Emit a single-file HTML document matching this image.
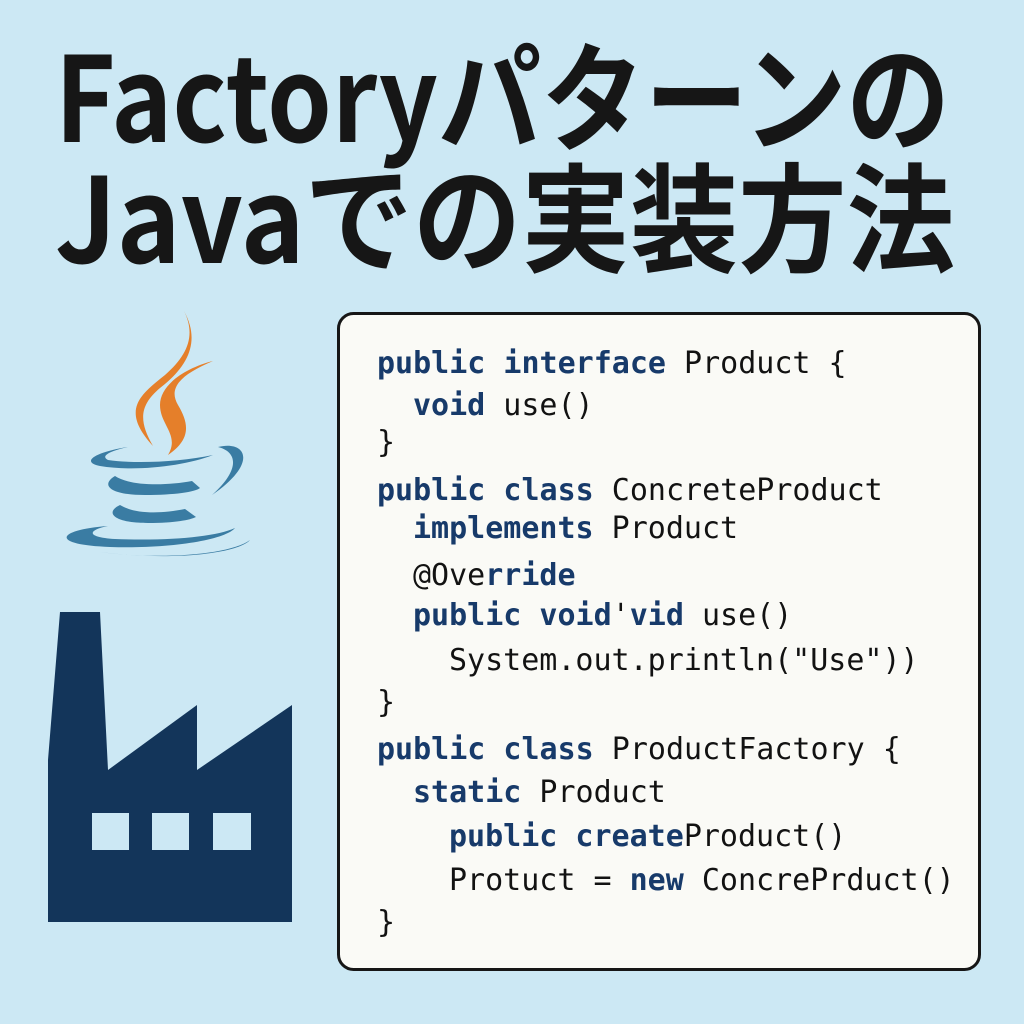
<!DOCTYPE html>
<html><head><meta charset="utf-8"><style>
html,body{margin:0;padding:0;background:#cce8f4;}
svg{display:block}
.t{font-family:"Noto Sans CJK JP","Liberation Sans",sans-serif;font-weight:700;fill:#161616;font-size:118px}
.c{font-family:"DejaVu Sans Mono","Liberation Mono",monospace;font-size:30px;fill:#121212}
.k{fill:#173a6a;font-weight:bold}
</style></head><body>
<svg width="1024" height="1024" viewBox="0 0 1024 1024" xmlns="http://www.w3.org/2000/svg">
<rect width="1024" height="1024" fill="#cce8f4"/>
<text class="t" x="55" y="142" textLength="895" lengthAdjust="spacingAndGlyphs">Factoryパターンの</text>
<text class="t" x="55" y="263" textLength="900" lengthAdjust="spacingAndGlyphs">Javaでの実装方法</text>

<!-- java flames -->
<path d="M184 311 C196 335 188 355 165 375 C140 395 120 410 153 446 C138 420 140 405 160 388 C190 365 200 340 184 311 Z" fill="#e57f2a"/>
<path d="M213 361 C185 368 160 385 160 405 C160 425 180 435 168 455 C190 440 190 425 178 405 C168 388 180 375 213 361 Z" fill="#e57f2a"/>
<!-- cup -->
<g fill="#3a7ca3">
<path d="M128 447 C95 452 80 462 100 466 C135 472 185 466 213 455 C180 462 135 464 108 460 C100 456 110 451 128 447 Z"/>
<path d="M218 447 C245 440 260 462 212 495 C240 470 238 452 218 447 Z"/>
<path d="M115 476 C100 485 110 495 145 495 C175 495 195 492 200 488 L192 481 C165 486 130 486 115 476 Z"/>
<path d="M120 505 C105 512 112 523 148 523 C175 523 190 520 196 517 L185 509 C160 514 135 514 120 505 Z"/>
<path d="M108 526 C55 530 50 545 110 547 C170 549 225 540 235 528 C215 537 170 541 115 539 C85 537 88 530 108 526 Z"/>
<path d="M100 552 C160 560 230 555 250 540 C240 552 180 562 100 552 Z"/>
</g>

<!-- factory -->
<path d="M60 612 L100 612 L108 770 L197 705 L197 770 L292 705 L292 922 L48 922 L48 760 Z" fill="#13355a"/>
<rect x="92" y="813" width="37" height="37" fill="#cce8f4"/>
<rect x="152" y="813" width="37" height="37" fill="#cce8f4"/>
<rect x="213" y="813" width="38" height="37" fill="#cce8f4"/>

<!-- code box -->
<rect x="338.5" y="313.5" width="641" height="656" rx="15" fill="#fafaf6" stroke="#161616" stroke-width="3"/>
<g class="c">
<text x="377" y="373"><tspan class="k">public interface</tspan> Product {</text>
<text x="413" y="415"><tspan class="k">void</tspan> use()</text>
<text x="377" y="452">}</text>
<text x="377" y="500"><tspan class="k">public class</tspan> ConcreteProduct</text>
<text x="413" y="538"><tspan class="k">implements</tspan> Product</text>
<text x="413" y="585">@Ove<tspan class="k">rride</tspan></text>
<text x="413" y="625"><tspan class="k">public void</tspan>'<tspan class="k">vid</tspan> use()</text>
<text x="449" y="670">System.out.println("Use"))</text>
<text x="377" y="712">}</text>
<text x="377" y="759"><tspan class="k">public class</tspan> ProductFactory {</text>
<text x="413" y="802"><tspan class="k">static</tspan> Product</text>
<text x="449" y="846"><tspan class="k">public create</tspan>Product()</text>
<text x="449" y="890">Protuct = <tspan class="k">new</tspan> ConcrePrduct()</text>
<text x="377" y="932">}</text>
</g>
</svg>
</body></html>
